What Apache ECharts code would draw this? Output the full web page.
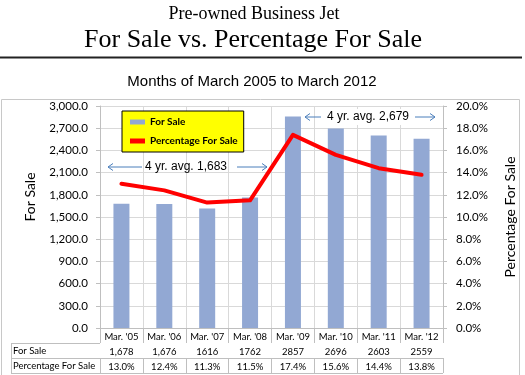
<!DOCTYPE html>
<html><head><meta charset="utf-8">
<script src="https://cdn.jsdelivr.net/npm/echarts@6/dist/echarts.min.js"></script>
<style>html,body{margin:0;padding:0;background:#fff}#c{width:525px;height:375px}</style>
</head><body><div id="c"></div>
<script>
// ---- data ----
const categories = ["Mar. '05","Mar. '06","Mar. '07","Mar. '08","Mar. '09","Mar. '10","Mar. '11","Mar. '12"];
const forSale = [1678,1676,1616,1762,2857,2696,2603,2559];
const pctForSale = [13.0,12.4,11.3,11.5,17.4,15.6,14.4,13.8];
const forSaleTable = ["1,678","1,676","1616","1762","2857","2696","2603","2559"];
const pctTable = ["13.0%","12.4%","11.3%","11.5%","17.4%","15.6%","14.4%","13.8%"];
const tableRowNames = ["For Sale","Percentage For Sale"];
const leftAxisRange = {min:0, max:3000, interval:300};
const rightAxisRange = {min:0, max:20, interval:2};
const annotationTexts = ["4 yr. avg. 1,683","4 yr. avg. 2,679"];

// ---- style ----
const lato = 'Lato, "Open Sans", sans-serif';
const gridLine = '#D9D9D9';
const tableLine = '#BFBFBF';
const blueArrow = '#4A7EBB';

function arrowGraphic(x1, x2, y, dir){
  const head = dir < 0 ? [[x1+5,y-3.5],[x1,y],[x1+5,y+3.5]] : [[x2-5,y-3.5],[x2,y],[x2-5,y+3.5]];
  return [
    {type:'line', shape:{x1:x1,y1:y,x2:x2,y2:y}, style:{stroke:blueArrow,lineWidth:1}, z:20},
    {type:'polyline', shape:{points:head}, style:{stroke:blueArrow,lineWidth:1,fill:null}, z:20}
  ];
}

const chart = echarts.init(document.getElementById('c'), null, {renderer:'canvas'});

const graphics = [
  {type:'rect', shape:{x:0,y:56.5,width:522,height:2}, style:{fill:'#222'}},
  {type:'rect', shape:{x:1.5,y:99.5,width:518,height:276}, style:{fill:null,stroke:'#C8C8C8',lineWidth:1}, z:-1},
  {type:'text', x:30, y:197, rotation:Math.PI/2, style:{text:'For Sale', font:'14px '+lato, fill:'#000', align:'center', verticalAlign:'middle'}},
  {type:'text', x:510, y:217, rotation:Math.PI/2, style:{text:'Percentage For Sale', font:'14px '+lato, fill:'#000', align:'center', verticalAlign:'middle'}},
  {type:'text', x:13, y:351, style:{text:tableRowNames[0], font:'9.5px '+lato, fill:'#000', verticalAlign:'middle'}},
  {type:'text', x:13, y:366, style:{text:tableRowNames[1], font:'9.5px '+lato, fill:'#000', verticalAlign:'middle'}},
  {type:'line', shape:{x1:11,y1:343.5,x2:100,y2:343.5}, style:{stroke:tableLine,lineWidth:1}},
  {type:'line', shape:{x1:11,y1:358.5,x2:100,y2:358.5}, style:{stroke:tableLine,lineWidth:1}},
  {type:'line', shape:{x1:11,y1:373.5,x2:443,y2:373.5}, style:{stroke:tableLine,lineWidth:1}},
  {type:'line', shape:{x1:11.5,y1:343,x2:11.5,y2:374}, style:{stroke:tableLine,lineWidth:1}},
  {type:'text', x:186, y:167, style:{text:annotationTexts[0], font:'12px "Liberation Sans", Arial, sans-serif', fill:'#000', align:'center', verticalAlign:'middle'}, z:20},
  {type:'text', x:368, y:117, style:{text:annotationTexts[1], font:'12px "Liberation Sans", Arial, sans-serif', fill:'#000', align:'center', verticalAlign:'middle'}, z:20},
  {type:'rect', shape:{x:322,y:109,width:92,height:16}, style:{fill:'#fff'}, z:15}
].concat(arrowGraphic(108,142,167,-1), arrowGraphic(237,267,167,1), arrowGraphic(305,321,117,-1), arrowGraphic(415,435,117,1));

const tableLabel = {interval:0, margin:4, fontFamily:lato, fontSize:9.5, color:'#000'};

const option = {
  animation:false,
  backgroundColor:'#fff',
  title:[
    {text:'Pre-owned Business Jet', left:249, top:0, textAlign:'center', textStyle:{fontFamily:'"Liberation Serif", "Times New Roman", serif', fontSize:18, fontWeight:'normal', color:'#000'}},
    {text:'For Sale vs. Percentage For Sale', left:248, top:22, textAlign:'center', textStyle:{fontFamily:'"Liberation Serif", "Times New Roman", serif', fontSize:26, fontWeight:'normal', color:'#000'}},
    {text:'Months of March 2005 to March 2012', left:247, top:69, textAlign:'center', textStyle:{fontFamily:'"Liberation Sans", Arial, sans-serif', fontSize:15, fontWeight:'normal', color:'#000'}}
  ],
  legend:{
    left:122, top:111, orient:'vertical', backgroundColor:'#FFFF00', borderColor:'#000', borderWidth:1,
    padding:[6,6,6,8], itemGap:9, itemWidth:15, itemHeight:5,
    textStyle:{fontFamily:lato, fontWeight:'bold', fontSize:10, color:'#000'},
    data:[{name:'For Sale', icon:'rect'},{name:'Percentage For Sale', icon:'rect'}]
  },
  grid:{left:100, right:82, top:106, bottom:47},
  xAxis:[
    {type:'category', data:categories, position:'bottom', boundaryGap:true,
     axisLine:{show:true, lineStyle:{color:tableLine}}, axisTick:{show:true, interval:0, length:15, lineStyle:{color:tableLine}},
     axisLabel:tableLabel,
     splitLine:{show:true, interval:0, lineStyle:{color:gridLine}}},
    {type:'category', data:forSaleTable, position:'bottom', offset:15, boundaryGap:true,
     axisLine:{show:true, lineStyle:{color:tableLine}}, axisTick:{show:true, interval:0, length:15, lineStyle:{color:tableLine}},
     axisLabel:tableLabel, splitLine:{show:false}},
    {type:'category', data:pctTable, position:'bottom', offset:30, boundaryGap:true,
     axisLine:{show:true, lineStyle:{color:tableLine}}, axisTick:{show:true, interval:0, length:15, lineStyle:{color:tableLine}},
     axisLabel:tableLabel, splitLine:{show:false}}
  ],
  yAxis:[
    {type:'value', min:leftAxisRange.min, max:leftAxisRange.max, interval:leftAxisRange.interval,
     axisLine:{show:true, lineStyle:{color:tableLine}}, axisTick:{show:true, length:4, lineStyle:{color:tableLine}},
     axisLabel:{margin:12, fontFamily:lato, fontSize:11.5, color:'#000',
       formatter:v=>v.toLocaleString('en-US',{minimumFractionDigits:1,maximumFractionDigits:1})},
     splitLine:{show:true, lineStyle:{color:gridLine}}},
    {type:'value', position:'right', min:rightAxisRange.min, max:rightAxisRange.max, interval:rightAxisRange.interval,
     axisLine:{show:true, lineStyle:{color:tableLine}}, axisTick:{show:true, length:4, lineStyle:{color:tableLine}},
     axisLabel:{margin:13, fontFamily:lato, fontSize:11.5, color:'#000', formatter:v=>v.toFixed(1)+'%'},
     splitLine:{show:false}}
  ],
  series:[
    {name:'For Sale', type:'bar', data:forSale, xAxisIndex:0, yAxisIndex:0, barWidth:16, itemStyle:{color:'#92A8D3'}, z:2},
    {name:'Percentage For Sale', type:'line', data:pctForSale, xAxisIndex:0, yAxisIndex:1, showSymbol:false, symbol:'none',
     itemStyle:{color:'#FF0000'}, lineStyle:{color:'#FF0000', width:4, join:'round', cap:'round'}, z:3}
  ],
  graphic:graphics
};
chart.setOption(option);
</script></body></html>
